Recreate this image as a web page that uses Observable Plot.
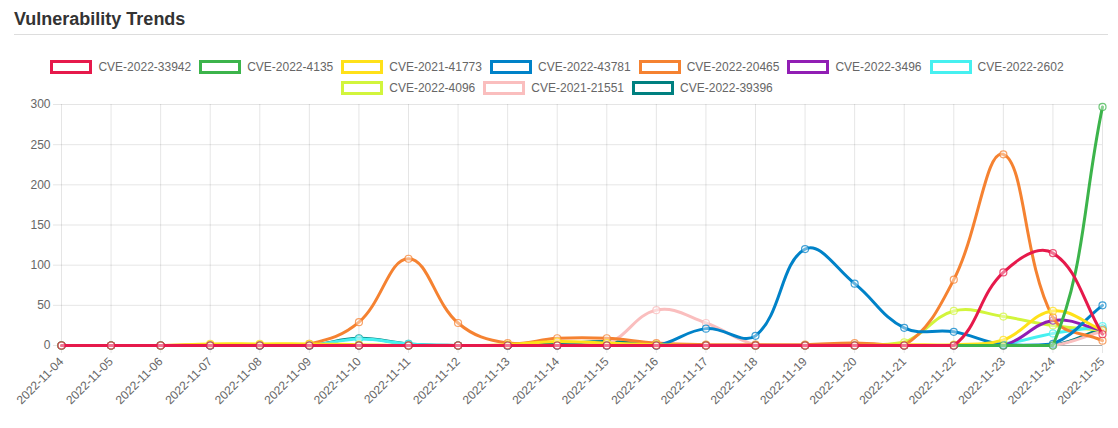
<!DOCTYPE html>
<html>
<head>
<meta charset="utf-8">
<script src="https://cdn.jsdelivr.net/npm/d3@7"></script>
<script src="https://cdn.jsdelivr.net/npm/@observablehq/plot@0.6"></script>
<style>
  html, body { margin: 0; padding: 0; background: #fff; }
  body { width: 1118px; height: 428px; position: relative; overflow: hidden;
         font-family: "Liberation Sans", Arial, Helvetica, sans-serif; }
  #title { position: absolute; left: 14px; top: 10px; font-size: 18px; line-height: 18px;
           font-weight: bold; color: #333; }
  #rule { position: absolute; left: 14px; top: 34px; width: 1094px; height: 0;
          border-top: 1px solid #ddd; }
  #legend { position: absolute; left: 0; top: 59px; width: 1114px; display: flex; flex-wrap: wrap;
            justify-content: center; row-gap: 6px; }
  .item { display: flex; align-items: center; height: 15px; margin: 0 4px; font-size: 12px; color: #666; }
  .box { box-sizing: border-box; width: 42px; height: 14px; border: 3px solid; background: #fff; margin-right: 6px; }
  #chart { position: absolute; left: 0; top: 96px; }
</style>
</head>
<body>
<div id="title">Vulnerability Trends</div>
<div id="rule"></div>
<div id="legend"></div>
<div id="chart"></div>
<script>
const dates = ["2022-11-04","2022-11-05","2022-11-06","2022-11-07","2022-11-08","2022-11-09","2022-11-10",
  "2022-11-11","2022-11-12","2022-11-13","2022-11-14","2022-11-15","2022-11-16","2022-11-17","2022-11-18",
  "2022-11-19","2022-11-20","2022-11-21","2022-11-22","2022-11-23","2022-11-24","2022-11-25"];

const seriesNames = ["CVE-2022-33942","CVE-2022-4135","CVE-2021-41773","CVE-2022-43781","CVE-2022-20465",
  "CVE-2022-3496","CVE-2022-2602","CVE-2022-4096","CVE-2021-21551","CVE-2022-39396"];
const seriesColors = ["#e6194b","#3cb44b","#ffe119","#0082c8","#f58231","#911eb4","#46f0f0","#d2f53c","#fabebe","#008080"];

const cve_2022_33942 = [0,0,0,0,0,0,0,0,0,0,0,0,0,0,0,0,0,0,0,91,115,14];
const cve_2022_4135  = [0,0,0,0,0,0,0,0,0,0,0,0,0,0,0,0,0,0,0,0,0,297];
const cve_2021_41773 = [0,0,0,2,2,2,1,0,0,1,5,3,1,0,0,0,0,1,1,7,43,19];
const cve_2022_43781 = [0,0,0,0,0,0,0,0,0,0,0,0,0,21,12,120,77,22,17,1,2,50];
const cve_2022_20465 = [0,0,0,1,1,2,29,108,28,3,9,9,3,1,1,1,3,0,82,238,35,6];
const cve_2022_3496  = [0,0,0,0,0,0,0,0,0,0,0,0,0,0,0,0,0,0,0,0,31,19];
const cve_2022_2602  = [0,0,0,0,0,0,8,2,0,0,0,0,0,0,0,0,0,0,0,2,15,24];
const cve_2022_4096  = [0,0,0,0,0,0,0,0,0,0,0,0,0,0,0,0,0,4,43,36,25,19];
const cve_2021_21551 = [0,0,0,0,0,0,0,0,0,0,0,2,44,28,1,0,0,0,0,0,0,18];
const cve_2022_39396 = [0,0,0,0,0,0,9,2,0,0,2,5,1,0,0,0,0,0,0,0,0,21];

const seriesValues = [cve_2022_33942, cve_2022_4135, cve_2021_41773, cve_2022_43781, cve_2022_20465,
  cve_2022_3496, cve_2022_2602, cve_2022_4096, cve_2021_21551, cve_2022_39396];
const yTicks = [0, 50, 100, 150, 200, 250, 300];

// Legend
const legend = document.getElementById("legend");
seriesNames.forEach((name, i) => {
  const it = document.createElement("div"); it.className = "item";
  const b = document.createElement("div"); b.className = "box"; b.style.borderColor = seriesColors[i];
  const t = document.createElement("span"); t.textContent = name;
  it.append(b, t); legend.append(it);
});

const W = 1118, H = 332, mT = 8, mB = 83, mL = 61, mR = 16;
const area = {left: mL, right: W - mR, top: mT, bottom: H - mB};

// Chart.js-style tension spline (tension 0.4, control points capped to chart area)
function chartjsCurve(context) {
  let pts = [];
  const T = 0.4;
  const clamp = p => [Math.max(area.left, Math.min(area.right, p[0])), Math.max(area.top, Math.min(area.bottom, p[1]))];
  return {
    areaStart() {}, areaEnd() {},
    lineStart() { pts = []; },
    point(x, y) { pts.push([+x, +y]); },
    lineEnd() {
      const n = pts.length;
      if (!n) return;
      const cps = pts.map((p, i) => {
        const prev = pts[i - 1] || p, next = pts[i + 1] || p;
        const d01 = Math.hypot(p[0] - prev[0], p[1] - prev[1]);
        const d12 = Math.hypot(next[0] - p[0], next[1] - p[1]);
        let s01 = d01 / (d01 + d12), s12 = d12 / (d01 + d12);
        if (!isFinite(s01)) s01 = 0;
        if (!isFinite(s12)) s12 = 0;
        const fa = T * s01, fb = T * s12;
        return [clamp([p[0] - fa * (next[0] - prev[0]), p[1] - fa * (next[1] - prev[1])]),
                clamp([p[0] + fb * (next[0] - prev[0]), p[1] + fb * (next[1] - prev[1])])];
      });
      context.moveTo(pts[0][0], pts[0][1]);
      for (let i = 1; i < n; i++) {
        context.bezierCurveTo(cps[i - 1][1][0], cps[i - 1][1][1], cps[i][0][0], cps[i][0][1], pts[i][0], pts[i][1]);
      }
    }
  };
}

const seriesMarks = [];
for (let i = seriesNames.length - 1; i >= 0; i--) {
  const data = dates.map((d, j) => ({date: d, value: seriesValues[i][j]}));
  seriesMarks.push(
    Plot.line(data, {x: "date", y: "value", stroke: seriesColors[i], strokeWidth: 3, curve: chartjsCurve}),
    Plot.dot(data, {x: "date", y: "value", r: 3.5, stroke: seriesColors[i], strokeWidth: 1.2, strokeOpacity: 0.75, fill: "#fff", fillOpacity: 0.4})
  );
}

const chart = Plot.plot({
  width: W, height: H,
  marginTop: mT, marginBottom: mB, marginLeft: mL, marginRight: mR,
  style: {fontFamily: '"Liberation Sans", Arial, Helvetica, sans-serif', fontSize: "12px", color: "#666", background: "#fff", overflow: "visible"},
  x: {type: "point", domain: dates, padding: 0, round: false},
  y: {domain: [0, 300]},
  marks: [
    Plot.gridX(dates, {stroke: "#000", strokeOpacity: 0.1}),
    Plot.gridY(yTicks, {stroke: "#000", strokeOpacity: 0.1}),
    Plot.axisY(yTicks, {tickSize: 8, tickPadding: 3, stroke: "#000", strokeOpacity: 0.1, fill: "#666", fontSize: 12, label: null}),
    Plot.axisX(dates, {tickSize: 8, tickPadding: 6, tickRotate: -45, stroke: "#000", strokeOpacity: 0.1, fill: "#666", fontSize: 12, label: null}),
    Plot.ruleY([0], {stroke: "#000", strokeOpacity: 0.25}),
    ...seriesMarks
  ]
});
document.getElementById("chart").append(chart);
</script>
</body>
</html>
